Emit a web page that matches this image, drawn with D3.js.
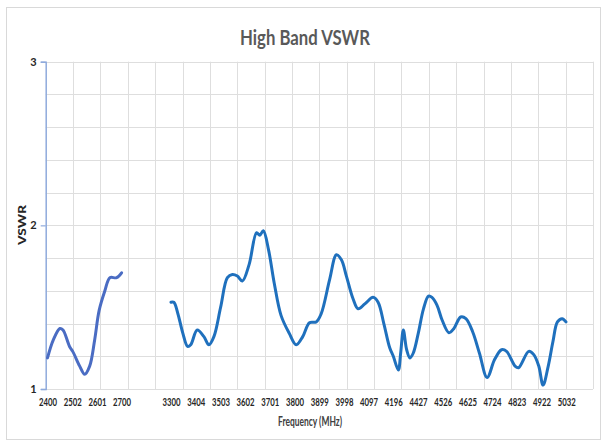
<!DOCTYPE html>
<html>
<head>
<meta charset="utf-8">
<script src="https://cdn.jsdelivr.net/npm/d3@7"></script>
<style>
  html, body { margin: 0; padding: 0; background: #ffffff; }
  svg { display: block; font-family: Lato, "Open Sans", sans-serif; }
</style>
</head>
<body>
<svg id="chart" width="605" height="442"></svg>
<script>
// ---------- DATA ----------
const title = "High Band VSWR";
const xTitle = "Frequency (MHz)";
const yTitle = "VSWR";

// category slots of the x axis ("" = empty slot between bands)
const slotLabels = ["2400","2502","2601","2700","","3300","3404","3503","3602","3701","3800",
                    "3899","3998","4097","4196","4427","4526","4625","4724","4823","4922","5032"];
const yTickValues = [1, 2, 3];

// Band 1 : 2400-2700 MHz
const band1Freq = [2400, 2424, 2451, 2464, 2491, 2504, 2532, 2552, 2572, 2592, 2610, 2633, 2653, 2680, 2700];
const band1Vswr = [1.19, 1.30, 1.37, 1.36, 1.26, 1.23, 1.14, 1.09, 1.14, 1.30, 1.48, 1.60, 1.68, 1.68, 1.71];

// Band 2 : 3300-5032 MHz
const band2Freq = [3300, 3312, 3329, 3350, 3370, 3383, 3410, 3437, 3457, 3477, 3504, 3531, 3551, 3571, 3591,
                   3618, 3648, 3661, 3675, 3696, 3719, 3746, 3779, 3807, 3833, 3860, 3887, 3907, 3941, 3968,
                   3988, 4008, 4035, 4055, 4082, 4115, 4135, 4158, 4182, 4196, 4243, 4265, 4290, 4321, 4352,
                   4383, 4428, 4449, 4469, 4483, 4503, 4524, 4551, 4571, 4598, 4619, 4646, 4673, 4704, 4734,
                   4762, 4782, 4816, 4830, 4871, 4891, 4911, 4929, 4952, 4973, 4993, 5014, 5031];
const band2Vswr = [1.53, 1.53, 1.46, 1.34, 1.26, 1.27, 1.36, 1.32, 1.27, 1.32, 1.50, 1.68, 1.70, 1.69, 1.66,
                   1.76, 1.955, 1.94, 1.967, 1.85, 1.645, 1.45, 1.34, 1.27, 1.32, 1.405, 1.41, 1.46, 1.67, 1.82,
                   1.79, 1.69, 1.55, 1.49, 1.52, 1.56, 1.53, 1.40, 1.25, 1.20, 1.116, 1.22, 1.36, 1.24, 1.19,
                   1.22, 1.34, 1.49, 1.568, 1.56, 1.513, 1.42, 1.344, 1.37, 1.44, 1.43, 1.35, 1.22, 1.07, 1.18,
                   1.24, 1.23, 1.14, 1.13, 1.23, 1.21, 1.14, 1.024, 1.14, 1.29, 1.41, 1.43, 1.41];

// ---------- LAYOUT ----------
const svg = d3.select("#chart");
const plot = { left: 45.7, right: 593, top: 61.7, bottom: 389 };
const labelRange = [47.5, 566.2];
const gridCount = 20;

// category positions
const slotScale = d3.scalePoint().domain(d3.range(slotLabels.length)).range(labelRange);
const tickIdx = d3.range(slotLabels.length).filter(i => slotLabels[i] !== "");
// frequency -> x (piecewise linear through labelled slots)
const x = d3.scaleLinear()
  .domain(tickIdx.map(i => +slotLabels[i]))
  .range(tickIdx.map(i => slotScale(i)));
const y = d3.scaleLinear().domain([1, 3]).range([plot.bottom, plot.top]);
const gridX = d3.scaleLinear().domain([0, gridCount]).range([plot.left, plot.right]);

// outer border
svg.append("rect").attr("x", 6.5).attr("y", 7.5).attr("width", 594).attr("height", 432)
  .attr("fill", "#fff").attr("stroke", "#d9d9d9").attr("stroke-width", 1);

// horizontal grid
svg.append("g").selectAll("line").data(d3.range(1, 3.0001, 0.2)).join("line")
  .attr("x1", plot.left).attr("x2", plot.right)
  .attr("y1", d => Math.round(y(d)) + 0.5).attr("y2", d => Math.round(y(d)) + 0.5)
  .attr("stroke", "#dedede").attr("stroke-width", 1);

// vertical grid
svg.append("g").selectAll("line").data(d3.range(1, gridCount + 1)).join("line")
  .attr("x1", d => Math.round(gridX(d)) + 0.5).attr("x2", d => Math.round(gridX(d)) + 0.5)
  .attr("y1", plot.top).attr("y2", plot.bottom)
  .attr("stroke", "#dedede").attr("stroke-width", 1);

// y axis
const yAxis = d3.axisLeft(y).tickValues(yTickValues).tickFormat(d3.format("d")).tickSize(5).tickPadding(4);
const gy = svg.append("g").attr("transform", `translate(${plot.left},0)`).call(yAxis);
gy.select(".domain").attr("stroke", "#8faadc").attr("stroke-width", 1.5);
gy.selectAll(".tick line").attr("stroke", "#8faadc").attr("stroke-width", 1.2);
gy.selectAll(".tick text").attr("fill", "#262626").attr("font-size", 11).attr("font-weight", 700)
  .attr("font-family", "Lato, sans-serif");

// x axis labels
const xAxis = d3.axisBottom(slotScale).tickValues(tickIdx).tickFormat(i => slotLabels[i]).tickSize(0).tickPadding(9);
const gx = svg.append("g").attr("transform", `translate(0,${plot.bottom})`).call(xAxis);
gx.select(".domain").remove();
gx.selectAll(".tick text").attr("fill", "#262626").attr("font-size", 11).attr("font-weight", 700)
  .attr("font-family", "Lato, sans-serif")
  .attr("textLength", 18).attr("lengthAdjust", "spacingAndGlyphs");

// lines
const line = d3.line().x(d => x(d[0])).y(d => y(d[1])).curve(d3.curveCatmullRom.alpha(0.5));
svg.append("path").datum(band1Freq.map((f, i) => [f, band1Vswr[i]]))
  .attr("d", line).attr("fill", "none").attr("stroke", "#4a6cc3").attr("stroke-width", 3)
  .attr("stroke-linejoin", "round").attr("stroke-linecap", "round");
svg.append("path").datum(band2Freq.map((f, i) => [f, band2Vswr[i]]))
  .attr("d", line).attr("fill", "none").attr("stroke", "#1f70bd").attr("stroke-width", 3)
  .attr("stroke-linejoin", "round").attr("stroke-linecap", "round");

// titles
svg.append("text").attr("x", 305).attr("y", 45).attr("text-anchor", "middle")
  .attr("font-size", 20).attr("font-weight", 700).attr("fill", "#595959")
  .attr("textLength", 130).attr("lengthAdjust", "spacingAndGlyphs").text(title);
svg.append("text").attr("x", 310).attr("y", 426).attr("text-anchor", "middle")
  .attr("font-size", 12.5).attr("font-weight", 700).attr("fill", "#404040")
  .attr("textLength", 64).attr("lengthAdjust", "spacingAndGlyphs").text(xTitle);
svg.append("text").attr("transform", "translate(26,225) rotate(-90)").attr("text-anchor", "middle")
  .attr("font-size", 12).attr("font-weight", 900).attr("fill", "#262626")
  .attr("textLength", 40).attr("lengthAdjust", "spacingAndGlyphs").text(yTitle);
</script>
</body>
</html>
